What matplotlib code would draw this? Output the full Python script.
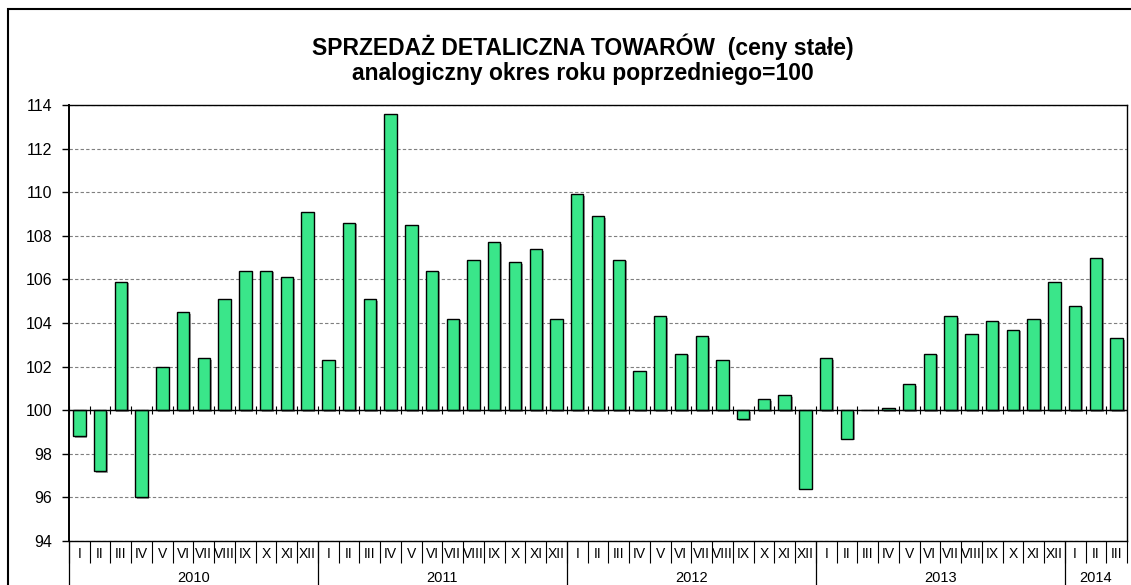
import numpy as np
import matplotlib
matplotlib.use("Agg")
import matplotlib.pyplot as plt
import matplotlib.patheffects as pe
from matplotlib.patches import Rectangle

plt.rcParams['font.family'] = ['Liberation Sans', 'DejaVu Sans']

roman = ["I", "II", "III", "IV", "V", "VI", "VII", "VIII", "IX", "X", "XI", "XII"]
years = ["2010", "2011", "2012", "2013", "2014"]
months_per_year = [12, 12, 12, 12, 3]
month_labels = roman * 4 + roman[:3]

values = [
    98.8, 97.2, 105.9, 96.0, 102.0, 104.5, 102.4, 105.1, 106.4, 106.4, 106.1, 109.1,   # 2010
    102.3, 108.6, 105.1, 113.6, 108.5, 106.4, 104.2, 106.9, 107.7, 106.8, 107.4, 104.2,  # 2011
    109.9, 108.9, 106.9, 101.8, 104.3, 102.6, 103.4, 102.3, 99.6, 100.5, 100.7, 96.4,    # 2012
    102.4, 98.7, 100.0, 100.1, 101.2, 102.6, 104.3, 103.5, 104.1, 103.7, 104.2, 105.9,   # 2013
    104.8, 107.0, 103.3,                                                                 # 2014
]
base = 100
title1 = "SPRZEDAŻ DETALICZNA TOWARÓW  (ceny stałe)"
title2 = "analogiczny okres roku poprzedniego=100"

W, H = 1131, 585
fig = plt.figure(figsize=(W / 100, H / 100), dpi=100)
ax = fig.add_axes([69 / W, 1 - 541 / H, (1127 - 69) / W, (541 - 105) / H])

n = len(values)
x = np.arange(n)
heights = np.array(values) - base
bars = ax.bar(x, heights, bottom=base, width=0.6, color='#3ae68a',
              edgecolor='black', linewidth=1.0, zorder=3)
for b in bars:
    b.set_path_effects([pe.SimplePatchShadow(offset=(1.2, -1.2), shadow_rgbFace='#777777', alpha=0.7),
                        pe.Normal()])

ax.set_xlim(-0.5, n - 0.5)
ax.set_ylim(94, 114)
ax.set_yticks(np.arange(94, 115, 2))
ax.tick_params(axis='y', direction='out', length=5, width=1, pad=7, labelsize=11.5)
ax.yaxis.grid(True, linestyle=(0, (3, 2)), color='#7f7f7f', linewidth=0.8, zorder=0)
ax.set_axisbelow(True)

# base line at 100 with crossing ticks
ax.axhline(base, color='black', linewidth=1.0, zorder=4)
bounds = np.arange(n + 1) - 0.5
ax.vlines(bounds, base - 0.18, base + 0.18, color='black', linewidth=0.8, zorder=4)

# month labels + separators
ax.set_xticks(x)
ax.set_xticklabels(month_labels, fontsize=10)
ax.tick_params(axis='x', which='major', length=0, pad=4.5)
ax.set_xticks(bounds, minor=True)
ax.tick_params(axis='x', which='minor', length=16, width=0.8, direction='out')

# year labels + separators
starts = np.concatenate([[0], np.cumsum(months_per_year)])
year_centers = (starts[:-1] + starts[1:]) / 2 - 0.5
sec = ax.secondary_xaxis('bottom')
sec.set_xticks(year_centers, labels=years, fontsize=10.5)
sec.tick_params(which='major', length=0, pad=21.5)
sec.set_xticks(starts[:-1] - 0.5, minor=True)
sec.tick_params(which='minor', length=40, width=0.9, direction='out')
sec.spines['bottom'].set_visible(False)

for s in ax.spines.values():
    s.set_color('black')
    s.set_linewidth(1.0)
ax.spines['left'].set_linewidth(1.4)

fig.text(583 / W, 1 - 55 / H, title1, ha='center', va='baseline', fontsize=16.5, fontweight='bold')
fig.text(583 / W, 1 - 80 / H, title2, ha='center', va='baseline', fontsize=16.5, fontweight='bold')

# outer chart frame
fig.patches.append(Rectangle((8 / W, -0.1), 2, 1 - 9 / H + 0.1, transform=fig.transFigure,
                             fill=False, edgecolor='black', linewidth=1.5))

fig.savefig('out.png', dpi=100)
